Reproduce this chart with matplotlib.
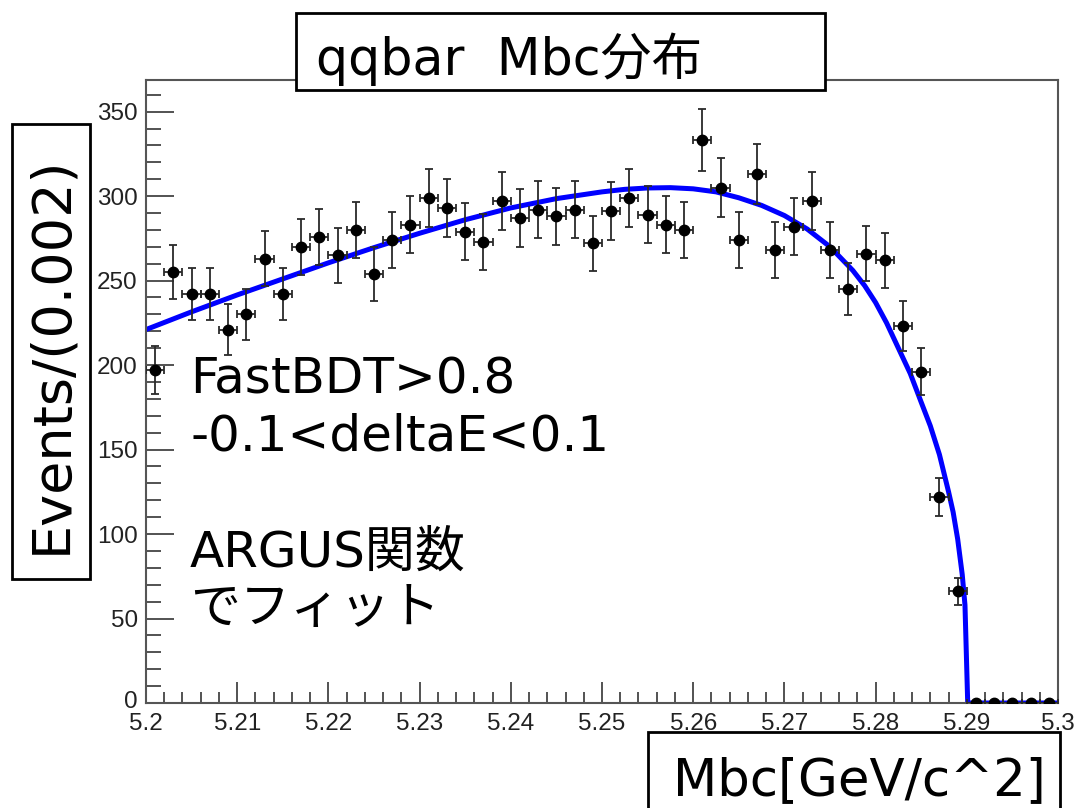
import numpy as np
import matplotlib
matplotlib.use("Agg")
import matplotlib.pyplot as plt
import matplotlib.transforms as mtransforms
from matplotlib.patches import Rectangle
from matplotlib.ticker import FixedLocator, MultipleLocator

# ビン中心 (幅 0.002)
bin_centers = [5.201, 5.203, 5.205, 5.207, 5.209, 5.211, 5.213, 5.215, 5.217, 5.219,
               5.221, 5.223, 5.225, 5.227, 5.229, 5.231, 5.233, 5.235, 5.237, 5.239,
               5.241, 5.243, 5.245, 5.247, 5.249, 5.251, 5.253, 5.255, 5.257, 5.259,
               5.261, 5.263, 5.265, 5.267, 5.269, 5.271, 5.273, 5.275, 5.277, 5.279,
               5.281, 5.283, 5.285, 5.287, 5.289, 5.291, 5.293, 5.295, 5.297, 5.299]
counts = [197, 255, 242, 242, 221, 230, 263, 242, 270, 276,
          265, 280, 254, 274, 283, 299, 293, 279, 273, 297,
          287, 292, 288, 292, 272, 291, 299, 289, 283, 280,
          333, 305, 274, 313, 268, 282, 297, 268, 245, 266,
          262, 223, 196, 122, 66, 0, 0, 0, 0, 0]

# ARGUS フィット曲線
fit_x = [5.200, 5.205, 5.210, 5.215, 5.220, 5.225, 5.230, 5.235, 5.240, 5.245,
         5.250, 5.2525, 5.255, 5.2575, 5.260, 5.2625, 5.265, 5.2675, 5.270, 5.2725,
         5.275, 5.2775, 5.2788, 5.280, 5.2812, 5.2825, 5.2838, 5.285, 5.286, 5.287,
         5.288, 5.2885, 5.289, 5.2895, 5.2898, 5.2901, 5.300]
fit_y = [221, 231.5, 241.5, 251, 260.5, 269.5, 278, 286, 293, 298.5,
         302.5, 304, 304.8, 305, 304.3, 302.5, 299, 294.5, 288.5, 280.5,
         270, 256, 247, 237, 225, 210, 195, 178, 164, 147,
         125, 113, 97, 76, 58, 0, 0]

x_ticks = [5.2, 5.21, 5.22, 5.23, 5.24, 5.25, 5.26, 5.27, 5.28, 5.29, 5.3]
x_tick_labels = ["5.2", "5.21", "5.22", "5.23", "5.24", "5.25", "5.26", "5.27", "5.28", "5.29", "5.3"]
y_ticks = [0, 50, 100, 150, 200, 250, 300, 350]

big_font = ["DejaVu Sans", "Noto Sans CJK JP"]
W, H = 1076, 808


def px_box(x0, y0, x1, y1):
    # 画像ピクセル座標 -> figure 座標
    return x0 / W, 1 - y1 / H, (x1 - x0) / W, (y1 - y0) / H


fig = plt.figure(figsize=(W / 100, H / 100), dpi=100)
ax = fig.add_axes([146 / W, 1 - 703 / H, 912 / W, (703 - 79.5) / H])

ax.plot(fit_x, fit_y, color="#0000ff", lw=3.6, zorder=2, solid_joinstyle="round")

yerr = np.sqrt(np.array(counts, dtype=float))
ax.errorbar(bin_centers, counts, xerr=0.001, yerr=yerr, fmt="o", color="black",
            ecolor="#2a2a2a", elinewidth=1.3, capsize=2.8, capthick=1.3,
            markersize=7.5, zorder=3)

ax.set_xlim(5.2, 5.3)
ax.set_ylim(0, 369)
ax.xaxis.set_major_locator(FixedLocator(x_ticks))
ax.set_xticklabels(x_tick_labels)
ax.xaxis.set_minor_locator(MultipleLocator(0.002))
ax.yaxis.set_major_locator(FixedLocator(y_ticks))
ax.yaxis.set_minor_locator(MultipleLocator(10))
ax.tick_params(which="both", direction="in", top=False, right=False,
               colors="#444444", labelcolor="#222222", width=1.3)
ax.tick_params(axis="x", which="major", length=15, pad=7)
ax.tick_params(axis="x", which="minor", length=8)
ax.tick_params(axis="y", which="major", length=20, pad=6)
ax.tick_params(axis="y", which="minor", length=11)
for lab in ax.get_xticklabels() + ax.get_yticklabels():
    lab.set_family("Liberation Sans")
    lab.set_fontsize(17.5)
for s in ax.spines.values():
    s.set_color("#555555")
    s.set_linewidth(1.5)

# y=0 のラベルを少し上へ (x軸ラベルと重ならないように)
zero_lab = ax.yaxis.get_major_ticks()[0].label1
zero_lab.set_transform(zero_lab.get_transform()
                       + mtransforms.ScaledTranslation(0, 4 / 100, fig.dpi_scale_trans))

# 枠付きラベル
for (x0, y0, x1, y1) in [(296, 13, 825, 90), (12, 124, 90, 579), (648, 732, 1060, 812)]:
    l, b, w, h = px_box(x0, y0, x1, y1)
    fig.add_artist(Rectangle((l, b), w, h, transform=fig.transFigure,
                             facecolor="white", edgecolor="black", lw=2, zorder=5))

fig.text(316 / W, 1 - 75 / H, "qqbar  Mbc分布", family=big_font, fontsize=36.5,
         ha="left", va="baseline", zorder=6)
fig.text(51 / W, 1 - 355 / H, "Events/(0.002)", family=big_font, fontsize=39,
         rotation=90, ha="center", va="center", zorder=6)
fig.text(673 / W, 1 - 795 / H, "Mbc[GeV/c^2]", family=big_font, fontsize=37,
         ha="left", va="baseline", zorder=6)

for txt, base in [("FastBDT>0.8", 393), ("-0.1<deltaE<0.1", 450),
                  ("ARGUS関数", 567), ("でフィット", 623)]:
    fig.text(190 / W, 1 - base / H, txt, family=big_font, fontsize=36,
             ha="left", va="baseline", zorder=6)

fig.savefig("out.png", dpi=100)
